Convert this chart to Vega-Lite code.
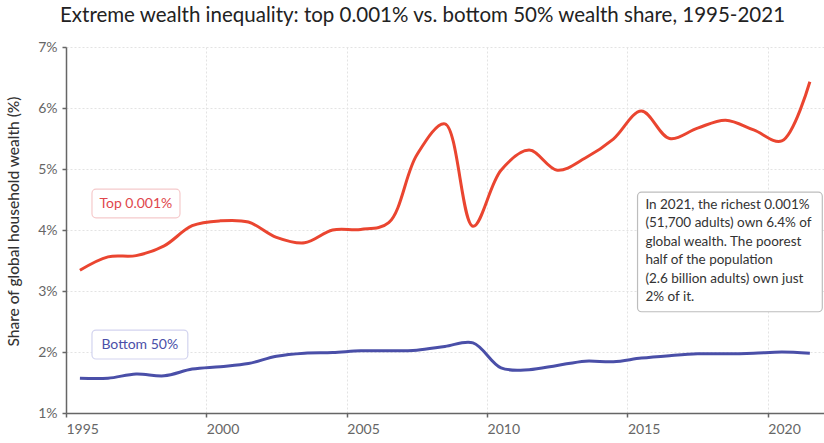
{
  "$schema": "https://vega.github.io/schema/vega-lite/v6.json",
  "autosize": {"type": "none"},
  "width": 758,
  "height": 366,
  "padding": {"left": 66, "top": 47, "right": 0, "bottom": 30},
  "background": "white",
  "config": {
    "view": {"stroke": null},
    "font": "Lato"
  },
  "title": {
    "text": "Extreme wealth inequality: top 0.001% vs. bottom 50% wealth share, 1995-2021",
    "anchor": "start",
    "frame": "group",
    "dx": -6,
    "offset": 14,
    "fontSize": 20.5,
    "font": "Lato",
    "fontWeight": "normal",
    "color": "#222222"
  },
  "datasets": {
    "shares": [
      {"date": "1995-07-01", "series": "Top 0.001%", "value": 3.34},
      {"date": "1996-07-01", "series": "Top 0.001%", "value": 3.56},
      {"date": "1997-07-01", "series": "Top 0.001%", "value": 3.58},
      {"date": "1998-07-01", "series": "Top 0.001%", "value": 3.74},
      {"date": "1999-07-01", "series": "Top 0.001%", "value": 4.07},
      {"date": "2000-07-01", "series": "Top 0.001%", "value": 4.15},
      {"date": "2001-07-01", "series": "Top 0.001%", "value": 4.13},
      {"date": "2002-07-01", "series": "Top 0.001%", "value": 3.88},
      {"date": "2003-07-01", "series": "Top 0.001%", "value": 3.79},
      {"date": "2004-07-01", "series": "Top 0.001%", "value": 4.0},
      {"date": "2005-07-01", "series": "Top 0.001%", "value": 4.01},
      {"date": "2006-07-01", "series": "Top 0.001%", "value": 4.12},
      {"date": "2007-07-01", "series": "Top 0.001%", "value": 5.23},
      {"date": "2008-07-01", "series": "Top 0.001%", "value": 5.74},
      {"date": "2009-07-01", "series": "Top 0.001%", "value": 4.06},
      {"date": "2010-07-01", "series": "Top 0.001%", "value": 4.98},
      {"date": "2011-07-01", "series": "Top 0.001%", "value": 5.31},
      {"date": "2012-07-01", "series": "Top 0.001%", "value": 4.98},
      {"date": "2013-07-01", "series": "Top 0.001%", "value": 5.18},
      {"date": "2014-07-01", "series": "Top 0.001%", "value": 5.49},
      {"date": "2015-07-01", "series": "Top 0.001%", "value": 5.95},
      {"date": "2016-07-01", "series": "Top 0.001%", "value": 5.5},
      {"date": "2017-07-01", "series": "Top 0.001%", "value": 5.67},
      {"date": "2018-07-01", "series": "Top 0.001%", "value": 5.8},
      {"date": "2019-07-01", "series": "Top 0.001%", "value": 5.64},
      {"date": "2020-07-01", "series": "Top 0.001%", "value": 5.46},
      {"date": "2021-07-01", "series": "Top 0.001%", "value": 6.43},
      {"date": "1995-07-01", "series": "Bottom 50%", "value": 1.57},
      {"date": "1996-07-01", "series": "Bottom 50%", "value": 1.57},
      {"date": "1997-07-01", "series": "Bottom 50%", "value": 1.64},
      {"date": "1998-07-01", "series": "Bottom 50%", "value": 1.61},
      {"date": "1999-07-01", "series": "Bottom 50%", "value": 1.72},
      {"date": "2000-07-01", "series": "Bottom 50%", "value": 1.76},
      {"date": "2001-07-01", "series": "Bottom 50%", "value": 1.81},
      {"date": "2002-07-01", "series": "Bottom 50%", "value": 1.93},
      {"date": "2003-07-01", "series": "Bottom 50%", "value": 1.98},
      {"date": "2004-07-01", "series": "Bottom 50%", "value": 1.99},
      {"date": "2005-07-01", "series": "Bottom 50%", "value": 2.02},
      {"date": "2006-07-01", "series": "Bottom 50%", "value": 2.02},
      {"date": "2007-07-01", "series": "Bottom 50%", "value": 2.03},
      {"date": "2008-07-01", "series": "Bottom 50%", "value": 2.09},
      {"date": "2009-07-01", "series": "Bottom 50%", "value": 2.15},
      {"date": "2010-07-01", "series": "Bottom 50%", "value": 1.74},
      {"date": "2011-07-01", "series": "Bottom 50%", "value": 1.71},
      {"date": "2012-07-01", "series": "Bottom 50%", "value": 1.78},
      {"date": "2013-07-01", "series": "Bottom 50%", "value": 1.85},
      {"date": "2014-07-01", "series": "Bottom 50%", "value": 1.84},
      {"date": "2015-07-01", "series": "Bottom 50%", "value": 1.9},
      {"date": "2016-07-01", "series": "Bottom 50%", "value": 1.94},
      {"date": "2017-07-01", "series": "Bottom 50%", "value": 1.97},
      {"date": "2018-07-01", "series": "Bottom 50%", "value": 1.97},
      {"date": "2019-07-01", "series": "Bottom 50%", "value": 1.98},
      {"date": "2020-07-01", "series": "Bottom 50%", "value": 2.0},
      {"date": "2021-07-01", "series": "Bottom 50%", "value": 1.98}
    ],
    "one": [{"n": 1}]
  },
  "layer": [
    {
      "data": {"name": "shares"},
      "mark": {"type": "line", "interpolate": "catmull-rom", "strokeWidth": 3},
      "encoding": {
        "x": {
          "field": "date",
          "type": "temporal",
          "scale": {"domain": [{"year": 1995, "month": 1, "date": 1}, {"year": 2022, "month": 1, "date": 1}]},
          "axis": {
            "title": null,
            "values": [
              {"year": 1995, "month": 1, "date": 1},
              {"year": 2000, "month": 1, "date": 1},
              {"year": 2005, "month": 1, "date": 1},
              {"year": 2010, "month": 1, "date": 1},
              {"year": 2015, "month": 1, "date": 1},
              {"year": 2020, "month": 1, "date": 1}
            ],
            "format": "%Y",
            "labelAlign": "left",
            "labelFontSize": 14,
            "labelColor": "#666666",
            "labelPadding": 5,
            "tickSize": 4,
            "tickColor": "#666666",
            "tickWidth": 1.5,
            "domainColor": "#666666",
            "domainWidth": 1.5,
            "grid": true,
            "gridColor": "#e3e3e3",
            "gridDash": [2, 2],
            "gridWidth": 1
          }
        },
        "y": {
          "field": "value",
          "type": "quantitative",
          "scale": {"domain": [1, 7], "nice": false, "zero": false},
          "axis": {
            "title": "Share of global household wealth (%)",
            "titleFontSize": 15.5,
            "titleColor": "#333333",
            "titleFontWeight": 500,
            "titlePadding": 16,
            "titleY": 174,
            "titleAlign": "center",
            "values": [1, 2, 3, 4, 5, 6, 7],
            "labelExpr": "datum.value + '%'",
            "labelFontSize": 14,
            "labelColor": "#666666",
            "labelPadding": 5,
            "tickSize": 4,
            "tickColor": "#666666",
            "tickWidth": 1.5,
            "domainColor": "#666666",
            "domainWidth": 1.5,
            "grid": true,
            "gridColor": "#e3e3e3",
            "gridDash": [2, 2],
            "gridWidth": 1
          }
        },
        "color": {
          "field": "series",
          "type": "nominal",
          "scale": {"domain": ["Top 0.001%", "Bottom 50%"], "range": ["#ea4530", "#4a4fa8"]},
          "legend": null
        }
      }
    },
    {
      "data": {"name": "one"},
      "mark": {"type": "rect", "fill": "white", "stroke": "#f5cacb", "strokeWidth": 1.2, "cornerRadius": 4},
      "encoding": {
        "x": {"datum": {"year": 1995, "month": 12, "date": 5}, "type": "temporal"},
        "x2": {"datum": {"year": 1999, "month": 1, "date": 23}},
        "y": {"datum": 4.67, "type": "quantitative"},
        "y2": {"datum": 4.2}
      }
    },
    {
      "data": {"name": "one"},
      "mark": {"type": "text", "fontSize": 14, "color": "#e0474c", "align": "center", "baseline": "middle"},
      "encoding": {
        "x": {"datum": {"year": 1997, "month": 6, "date": 28}, "type": "temporal"},
        "y": {"datum": 4.43, "type": "quantitative"},
        "text": {"value": "Top 0.001%"}
      }
    },
    {
      "data": {"name": "one"},
      "mark": {"type": "rect", "fill": "white", "stroke": "#d3d4ef", "strokeWidth": 1.2, "cornerRadius": 4},
      "encoding": {
        "x": {"datum": {"year": 1995, "month": 12, "date": 5}, "type": "temporal"},
        "x2": {"datum": {"year": 1999, "month": 5, "date": 5}},
        "y": {"datum": 2.36, "type": "quantitative"},
        "y2": {"datum": 1.885}
      }
    },
    {
      "data": {"name": "one"},
      "mark": {"type": "text", "fontSize": 14, "color": "#4a4fa8", "align": "center", "baseline": "middle"},
      "encoding": {
        "x": {"datum": {"year": 1997, "month": 8, "date": 18}, "type": "temporal"},
        "y": {"datum": 2.115, "type": "quantitative"},
        "text": {"value": "Bottom 50%"}
      }
    },
    {
      "data": {"name": "one"},
      "mark": {"type": "rect", "fill": "white", "stroke": "#bdbdbd", "strokeWidth": 1.2, "cornerRadius": 4},
      "encoding": {
        "x": {"datum": {"year": 2015, "month": 5, "date": 12}, "type": "temporal"},
        "x2": {"datum": {"year": 2021, "month": 12, "date": 10}},
        "y": {"datum": 4.62, "type": "quantitative"},
        "y2": {"datum": 2.66}
      }
    },
    {
      "data": {"name": "one"},
      "mark": {
        "type": "text",
        "fontSize": 13.5,
        "lineHeight": 18.4,
        "color": "#333333",
        "align": "left",
        "baseline": "middle"
      },
      "encoding": {
        "x": {"datum": {"year": 2015, "month": 8, "date": 22}, "type": "temporal"},
        "y": {"datum": 4.41, "type": "quantitative"},
        "text": {"value": ["In 2021, the richest 0.001%", "(51,700 adults) own 6.4% of", "global wealth. The poorest", "half of the population", "(2.6 billion adults) own just", "2% of it."]}
      }
    }
  ]
}
